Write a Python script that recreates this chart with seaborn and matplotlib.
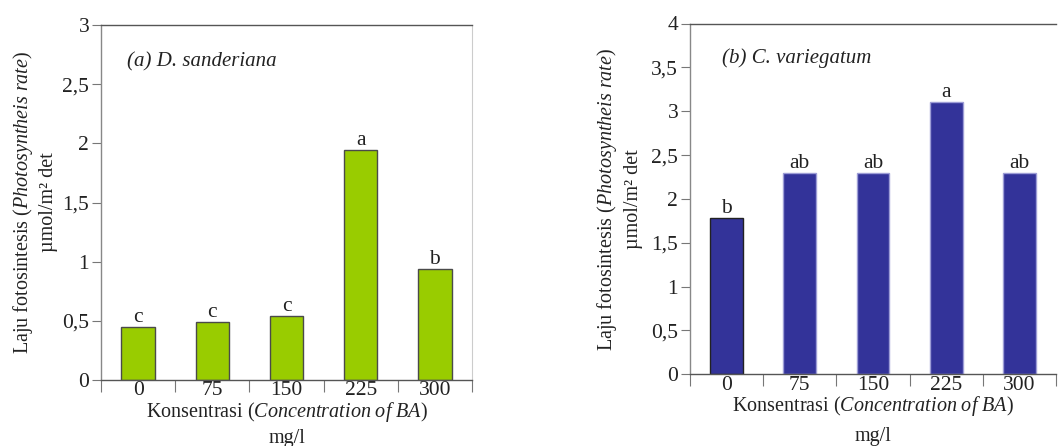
import matplotlib
matplotlib.use("Agg")
import matplotlib.pyplot as plt
import numpy as np
import pandas as pd
import seaborn as sns

# BA concentration (mg/l) and photosynthesis rate (umol/m2 det)
concentration = ["0", "75", "150", "225", "300"]
rate_sanderiana = [0.45, 0.49, 0.54, 1.94, 0.94]
letters_sanderiana = ["c", "c", "c", "a", "b"]
rate_variegatum = [1.78, 2.30, 2.30, 3.10, 2.30]
letters_variegatum = ["b", "ab", "ab", "a", "ab"]

yticks_a = [0, 0.5, 1, 1.5, 2, 2.5, 3]
ytick_labels_a = ["0", "0,5", "1", "1,5", "2", "2,5", "3"]
yticks_b = [0, 0.5, 1, 1.5, 2, 2.5, 3, 3.5, 4]
ytick_labels_b = ["0", "0,5", "1", "1,5", "2", "2,5", "3", "3,5", "4"]

sns.set_style("ticks")
plt.rcParams.update({
    "font.family": ["Liberation Serif", "DejaVu Serif"],
    "mathtext.fontset": "custom",
    "mathtext.rm": "Liberation Serif",
    "mathtext.it": "Liberation Serif:italic",
    "text.color": "#222222",
    "xtick.color": "#777777",
    "ytick.color": "#777777",
    "xtick.labelcolor": "#222222",
    "ytick.labelcolor": "#222222",
})

FS_TICK = 15.5
FS_LAB = 14.5

fig = plt.figure(figsize=(10.58, 4.46), dpi=100)
ax_a = fig.add_axes([101 / 1058, 1 - 380 / 446, 371 / 1058, 355 / 446])
ax_b = fig.add_axes([690 / 1058, 1 - 374.3 / 446, 366 / 1058, 350.8 / 446])


def draw_panel(ax, values, letters, color, edges, ymax, yticks, ylabels,
               title, title_xy, right_spine, ylab_x, xlab_y):
    df = pd.DataFrame({"conc": concentration, "rate": values})
    sns.barplot(data=df, x="conc", y="rate", color=color, saturation=1,
                width=0.45, errorbar=None, linewidth=1.0, ax=ax)
    for patch, ec in zip(ax.patches, edges):
        patch.set_edgecolor(ec)
    ax.bar_label(ax.containers[0], labels=letters, padding=0, fontsize=FS_TICK)

    ax.set_xlim(-0.5, 4.5)
    ax.set_ylim(0, ymax)
    ax.set_yticks(yticks)
    ax.set_yticklabels(ylabels, fontsize=FS_TICK)
    ax.tick_params(axis="y", direction="out", length=6.5, width=0.8, pad=2)
    ax.tick_params(axis="x", which="major", length=0, pad=1, labelsize=FS_TICK)
    ax.set_xticks(np.arange(-0.5, 5.0, 1.0), minor=True)
    ax.tick_params(axis="x", which="minor", direction="out", length=8.5,
                   width=0.8, color="#777777")
    ax.set_xlabel("")
    ax.set_ylabel("")

    ax.spines["left"].set_color("#888888")
    ax.spines["bottom"].set_color("#555555")
    ax.spines["top"].set_color("#555555")
    ax.spines["top"].set_visible(True)
    for s in ("left", "bottom", "top"):
        ax.spines[s].set_linewidth(1.0)
    if right_spine:
        ax.spines["right"].set_visible(True)
        ax.spines["right"].set_color("#cccccc")
        ax.spines["right"].set_linewidth(0.8)
    else:
        ax.spines["right"].set_visible(False)

    ax.text(title_xy[0], title_xy[1], title, transform=ax.transAxes,
            fontsize=FS_LAB + 0.5, style="italic", ha="left", va="center")

    ax.text(ylab_x, 0.5,
            "Laju fotosintesis $\\it{(Photosyntheis\\ rate)}$\n\u00b5mol/m\u00b2 det",
            transform=ax.transAxes, rotation=90, ha="center", va="center",
            multialignment="center", fontsize=FS_LAB, linespacing=1.3)

    ax.text(0.5, xlab_y[0], "Konsentrasi $\\it{(Concentration\\ of\\ BA)}$",
            transform=ax.transAxes, ha="center", va="center", fontsize=FS_LAB)
    ax.text(0.5, xlab_y[1], "mg/l", transform=ax.transAxes,
            ha="center", va="center", fontsize=FS_LAB)


draw_panel(ax_a, rate_sanderiana, letters_sanderiana, "#99cc00",
           ["#4a4a4a"] * 5, 3, yticks_a, ytick_labels_a,
           "(a) D. sanderiana", (0.07, 0.896), True, -0.18, (-0.09, -0.165))

draw_panel(ax_b, rate_variegatum, letters_variegatum, "#333399",
           ["#222222", "#9d9dd6", "#9d9dd6", "#9d9dd6", "#9d9dd6"], 4,
           yticks_b, ytick_labels_b,
           "(b) C. variegatum", (0.087, 0.90), False, -0.194, (-0.09, -0.177))

fig.savefig("out.png", dpi=100)
